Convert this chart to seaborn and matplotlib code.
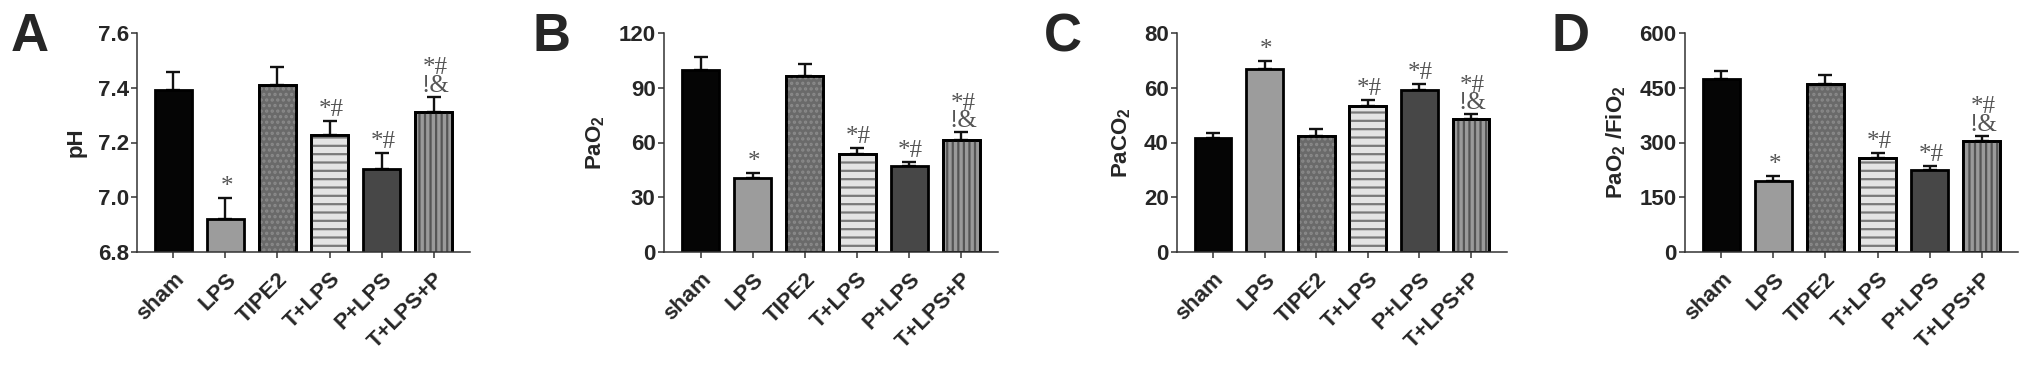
import numpy as np
import pandas as pd
import matplotlib
matplotlib.use("Agg")
import matplotlib.pyplot as plt
import seaborn as sns

sns.set_style("ticks")
plt.rcParams['font.family'] = ['Liberation Sans', 'DejaVu Sans']
plt.rcParams['font.weight'] = 'bold'
plt.rcParams['mathtext.fontset'] = 'custom'
plt.rcParams['mathtext.rm'] = 'Liberation Sans:bold'
plt.rcParams['mathtext.bf'] = 'Liberation Sans:bold'
plt.rcParams['mathtext.default'] = 'bf'
plt.rcParams['hatch.linewidth'] = 1.6

# groups
groups = ['sham', 'LPS', 'TIPE2', 'T+LPS', 'P+LPS', 'T+LPS+P']

# panel A: pH
ph_mean = [7.39, 6.92, 7.41, 7.228, 7.105, 7.312]
ph_err = [0.066, 0.076, 0.067, 0.05, 0.057, 0.056]
# panel B: PaO2
pao2_mean = [99.7, 40.8, 96.4, 53.8, 47.1, 61.1]
pao2_err = [7.1, 2.5, 6.4, 3.1, 2.2, 4.5]
# panel C: PaCO2
paco2_mean = [41.8, 66.9, 42.4, 53.4, 59.2, 48.5]
paco2_err = [1.8, 3.0, 2.5, 2.3, 2.2, 1.8]
# panel D: PaO2/FiO2
ratio_mean = [474, 195, 461, 257, 224, 303]
ratio_err = [22, 14, 25, 15, 12, 15]

# significance marks
marks_a = ['', '*', '', '*#', '*#', '*#\n!&']
marks_b = ['', '*', '', '*#', '*#', '*#\n!&']
marks_c = ['', '*', '', '*#', '*#', '*#\n!&']
marks_d = ['', '*', '', '*#', '*#', '*#\n!&']

face_colors = ['#050505', '#9c9c9c', '#6a6a6a', '#e4e4e4', '#474747', '#9a9a9a']
hatches = [None, None, '...', '--', None, '|||']
hatch_colors = [None, None, '#8a8a8a', '#7a7a7a', None, '#555555']

panels = [
    ('A', 'pH', ph_mean, ph_err, marks_a, (6.8, 7.6), [6.8, 7.0, 7.2, 7.4, 7.6], '{:.1f}'),
    ('B', 'PaO$_2$', pao2_mean, pao2_err, marks_b, (0, 120), [0, 30, 60, 90, 120], '{:.0f}'),
    ('C', 'PaCO$_2$', paco2_mean, paco2_err, marks_c, (0, 80), [0, 20, 40, 60, 80], '{:.0f}'),
    ('D', 'PaO$_2$ /FiO$_2$', ratio_mean, ratio_err, marks_d, (0, 600), [0, 150, 300, 450, 600], '{:.0f}'),
]

W, H = 2031, 365
lefts = [137, 664, 1177, 1685]
widths = [333, 334, 330, 333]
ax_bottom = 1 - 252 / H
ax_height = (252 - 33) / H
letter_x = [11, 532, 1044, 1552]

fig = plt.figure(figsize=(W / 100, H / 100), dpi=100)
bar_w = 0.71
fs = 16

for k, (letter, ylab, means, errs, marks, ylim, yt, fmt) in enumerate(panels):
    ax = fig.add_axes([lefts[k] / W, ax_bottom, widths[k] / W, ax_height])
    df = pd.DataFrame({'group': groups, 'value': means})
    sns.barplot(data=df, x='group', y='value', hue='group', palette=face_colors,
                legend=False, width=bar_w, edgecolor='black', linewidth=2.0,
                ax=ax, zorder=2)
    xs = np.arange(len(groups))
    for i in xs:
        if hatches[i]:
            ax.bar(i, means[i], width=bar_w, facecolor='none', edgecolor=hatch_colors[i],
                   linewidth=0, hatch=hatches[i], zorder=2.1)
            ax.bar(i, means[i], width=bar_w, facecolor='none', edgecolor='black',
                   linewidth=2.0, zorder=2.2)
    ax.errorbar(xs, means, yerr=[np.zeros(len(errs)), errs], fmt='none',
                ecolor='#111111', elinewidth=1.7, capsize=4.8, capthick=1.7, zorder=1.5)
    for i in xs:
        if marks[i]:
            ax.annotate(marks[i], (i, means[i] + errs[i]), xytext=(1, 0),
                        textcoords='offset points', ha='center', va='bottom',
                        fontsize=18, family='Liberation Serif', fontweight='normal',
                        color='#555555', linespacing=0.75)
    ax.set_ylim(*ylim)
    ax.set_xlim(-0.7, 5.7)
    ax.set_yticks(yt)
    ax.set_yticklabels([fmt.format(v) for v in yt], fontsize=fs, fontweight='bold')
    ax.set_xticks(xs)
    ax.set_xticklabels(groups, rotation=45, ha='right', rotation_mode='anchor',
                       fontsize=fs, fontweight='bold')
    ax.set_xlabel('')
    ax.set_ylabel(ylab, fontsize=fs, fontweight='bold', labelpad=8)
    sns.despine(ax=ax)
    for s in ['left', 'bottom']:
        ax.spines[s].set_linewidth(1.1)
        ax.spines[s].set_color('#333333')
    ax.tick_params(axis='both', width=1.1, length=4, color='#333333', pad=2)
    ax.tick_params(axis='x', pad=8)
    fig.text(letter_x[k] / W, 1 - 12 / H, letter, fontsize=38, fontweight='bold',
             ha='left', va='top')

fig.savefig('out.png', dpi=100)
